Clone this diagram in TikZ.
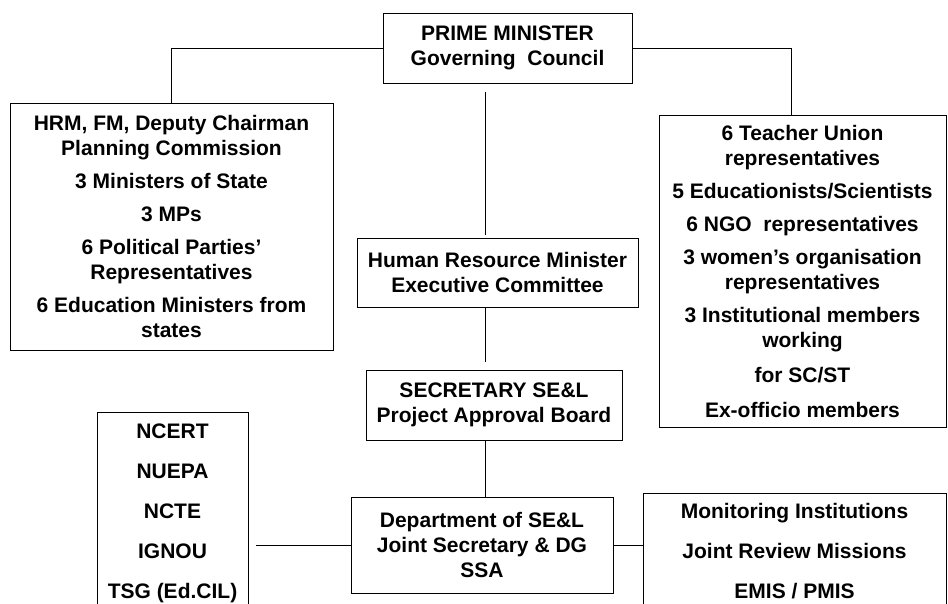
\documentclass[tikz,border=0pt]{standalone}
\usepackage{fontspec}
\setmainfont{Liberation Sans}
\usetikzlibrary{calc}
\tikzset{
	box/.style={draw, line width=0.9pt, inner sep=0pt, outer sep=0pt, align=center,
		font=\bfseries\fontsize{21}{25}\selectfont},
	link/.style={line width=0.7pt}
}

\begin{document}
\begin{tikzpicture}[x=1pt, y=-1pt]
		%%%%% START %%%%%
		\useasboundingbox (0, 0) rectangle (948, 604);
		\clip (0, 0) rectangle (948, 604);
		
		\node[box, minimum width=249, minimum height=70] (pm) at (507.5, 48)
			{PRIME MINISTER\\Governing\ \ Council};
		
		\node[box, minimum width=323, minimum height=247] (gc1) at (171.5, 226.5)
			{HRM, FM, Deputy Chairman\\Planning Commission\\[8pt]
			3 Ministers of State\\[8pt]3 MPs\\[8pt]
			6 Political Parties’\\Representatives\\[8pt]
			6 Education Ministers from\\states};
		
		\node[box, minimum width=287, minimum height=312] (gc2) at (802.5, 271)
			{6 Teacher Union\\representatives\\[8pt]
			5 Educationists/Scientists\\[8pt]
			6 NGO\ \ representatives\\[8pt]
			3 women’s organisation\\representatives\\[8pt]
			3 Institutional members\\working\\[10pt]for SC/ST\\[10pt]
			Ex-officio members};
		
		\node[box, minimum width=281, minimum height=69] (hrm) at (497.5, 272.5)
			{Human Resource Minister\\Executive Committee};
		\node[box, minimum width=256, minimum height=70] (sec) at (494, 405)
			{SECRETARY SE\&L\\Project Approval Board};
		\node[box, minimum width=262, minimum height=96] (dept) at (482, 545)
			{Department of SE\&L\\Joint Secretary \& DG\\SSA};
		
		\node[box, minimum width=151, minimum height=203] (inst) at (172.5, 513.5)
			{NCERT\\[15pt]NUEPA\\[15pt]NCTE\\[15pt]IGNOU\\[15pt]TSG (Ed.CIL)};
		\node[box, minimum width=303, minimum height=117] (mon) at (794.5, 551.5)
			{Monitoring Institutions\\[15pt]Joint Review Missions\\[15pt]EMIS / PMIS};
		
		% links
		\coordinate (spine) at (485, 0);
		\draw[link] (pm.west) -| (gc1.north);
		\draw[link] (pm.east) -| ($(gc2.north)+(-11, 0)$);
		\draw[link, shorten <=9pt, shorten >=3pt] (pm.south -| spine) -- (hrm.north -| spine);
		\draw[link, shorten >=8pt] (hrm.south -| spine) -- (sec.north -| spine);
		\draw[link] (sec.south -| spine) -- (dept.north -| spine);
		\draw[link, shorten >=8pt] (dept.west) -- (dept.west -| inst.east);
		\draw[link] (dept.east) -- (dept.east -| mon.west);
		
		%%%%% END %%%%%
	\end{tikzpicture}
\end{document}
